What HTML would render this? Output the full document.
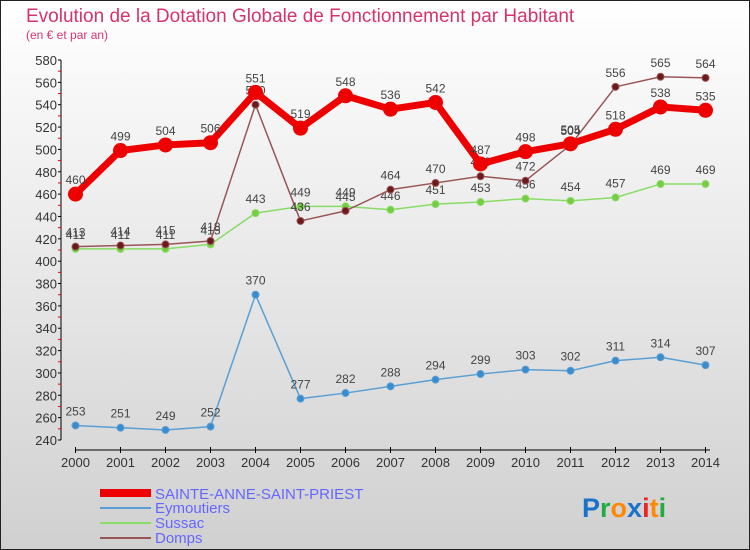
<!DOCTYPE html>
<html><head><meta charset="utf-8"><style>
body{margin:0;}
svg{display:block;font-family:"Liberation Sans",sans-serif;}
</style></head><body>
<svg id="chart" width="750" height="550" xmlns="http://www.w3.org/2000/svg">
<defs><linearGradient id="bg" x1="0" y1="0" x2="0" y2="1"><stop offset="0" stop-color="#ffffff"/><stop offset="1" stop-color="#d0d0d0"/></linearGradient></defs>
<rect x="0.5" y="0.5" width="749" height="549" fill="url(#bg)" stroke="#222"/>
<text x="26" y="22" font-size="19" fill="#d6336c">Evolution de la Dotation Globale de Fonctionnement par Habitant</text>
<text x="26" y="39" font-size="12" fill="#d6336c">(en € et par an)</text>
<g id="axes"></g><g id="series"></g>
<g>
<rect x="100" y="489" width="51" height="8" fill="#ee0000"/>
<text x="155" y="499" font-size="15" fill="#6666ff">SAINTE-ANNE-SAINT-PRIEST</text>
<rect x="100" y="507" width="51" height="2" fill="#5a9fd4"/>
<text x="155" y="513" font-size="15" fill="#6666ff">Eymoutiers</text>
<rect x="100" y="522" width="51" height="2" fill="#88dd66"/>
<text x="155" y="528" font-size="15" fill="#6666ff">Sussac</text>
<rect x="100" y="537" width="51" height="2" fill="#995555"/>
<text x="155" y="543" font-size="15" fill="#6666ff">Domps</text>
</g>
<text x="582" y="517" font-size="27" font-weight="bold"><tspan fill="#1a73c8">P</tspan><tspan fill="#22aa44">r</tspan><tspan fill="#ff8800">o</tspan><tspan fill="#1a73c8">x</tspan><tspan fill="#ee2222">i</tspan><tspan fill="#ff8800">t</tspan><tspan fill="#22aa44">i</tspan></text>
</svg>
<script>
const years=[2000,2001,2002,2003,2004,2005,2006,2007,2008,2009,2010,2011,2012,2013,2014];
const sainte=[460,499,504,506,551,519,548,536,542,487,498,505,518,538,535];
const eymoutiers=[253,251,249,252,370,277,282,288,294,299,303,302,311,314,307];
const sussac=[411,411,411,415,443,449,449,446,451,453,456,454,457,469,469];
const domps=[413,414,415,418,540,436,445,464,470,476,472,504,556,565,564];
const yTicks=[240,260,280,300,320,340,360,380,400,420,440,460,480,500,520,540,560,580];
const NS="http://www.w3.org/2000/svg";
const X=i=>75.5+i*45, Y=v=>440-(v-240)*380/340;
function mk(tag,attrs,parent){const e=document.createElementNS(NS,tag);for(const k in attrs)e.setAttribute(k,attrs[k]);parent.appendChild(e);return e;}
const ax=document.getElementById('axes');
const yl=mk('line',{x1:61,y1:60,x2:61,y2:440,stroke:'#000'},ax);


const xl=mk('line',{x1:75,y1:450,x2:710,y2:450,stroke:'#000'},ax);


yTicks.forEach(v=>{
 mk('line',{x1:58,y1:Y(v),x2:61,y2:Y(v),stroke:'#000'},ax);
 if(v<580) mk('line',{x1:58,y1:Y(v+10),x2:61,y2:Y(v+10),stroke:'#e00'},ax);
 const t=mk('text',{x:57,y:Y(v)+5,'font-size':13,fill:'#333','text-anchor':'end'},ax);t.textContent=v;
 
 
});
years.forEach((y,i)=>{
 mk('line',{x1:X(i),y1:447,x2:X(i),y2:453,stroke:'#000'},ax);
 const t=mk('text',{x:X(i),y:467,'font-size':13,fill:'#333','text-anchor':'middle'},ax);t.textContent=y;
 
 
});
const sg=document.getElementById('series');
function series(data,name,color,w,r,dot){
 const g=mk('g',{},sg);
 
 
 mk('polyline',{points:data.map((v,i)=>X(i)+','+Y(v)).join(' '),fill:'none',stroke:color,'stroke-width':w,'stroke-linejoin':'round'},g);
 data.forEach((v,i)=>{
  const c=mk('circle',{cx:X(i),cy:Y(v),r:r,fill:dot,stroke:color,'stroke-width':1},g);
  
  
  const t=mk('text',{x:X(i),y:Y(v)-10,'font-size':12,fill:'#444','text-anchor':'middle'},g);t.textContent=v;
  
  
 });
}
series(eymoutiers,'eymoutiers','#5a9fd4',1.5,3.5,'#3a8ccc');
series(sussac,'sussac','#88dd66',1.5,3.5,'#77cc44');
series(domps,'domps','#995555',1.5,3.5,'#6b1a1a');
series(sainte,'sainte','#ee0000',7,7,'#ee0000');
</script>
</body></html>
